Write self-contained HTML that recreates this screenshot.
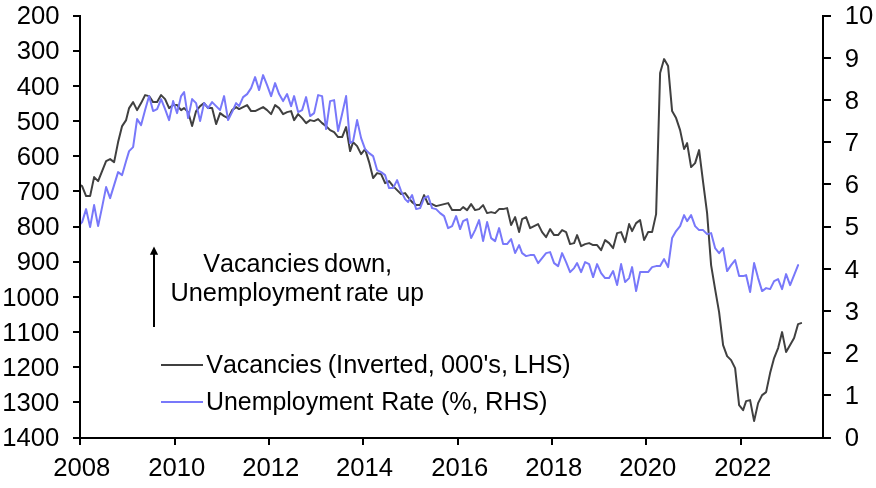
<!DOCTYPE html>
<html><head><meta charset="utf-8"><title>Vacancies and Unemployment Rate</title>
<style>
html,body{margin:0;padding:0;background:#fff;}
svg{display:block;will-change:transform;}
text{font-family:"Liberation Sans",Arial,sans-serif;font-size:24.8px;fill:#000;font-kerning:none;}
</style></head><body>
<svg width="876" height="488" viewBox="0 0 876 488">
<rect width="876" height="488" fill="#ffffff"/>
<polyline fill="none" stroke="#404040" stroke-width="2" stroke-linejoin="round" stroke-linecap="round" points="80.3,185.0 82.1,186.1 86.1,196.1 90.1,196.1 94.1,177.1 98.1,181.1 102.1,171.1 106.1,161.1 110.1,159.1 114.1,162.1 118.1,142.1 122.1,126.1 126.1,120.1 129.1,108.1 133.1,102.1 137.1,110.1 141.1,103.1 145.1,95.1 149.1,96.1 153.1,102.1 157.1,102.1 161.1,95.1 165.1,99.1 169.1,108.1 173.1,105.1 177.1,105.1 181.1,110.1 184.1,108.1 188.1,112.1 192.1,126.1 196.1,111.1 200.1,106.1 204.1,103.1 208.1,108.1 212.1,108.1 216.1,124.1 220.1,113.1 224.1,116.1 228.1,118.1 232.1,110.1 236.1,107.1 239.1,109.1 243.1,107.1 247.1,105.1 251.1,111.1 255.1,111.1 259.1,109.1 263.1,107.1 267.1,110.1 271.1,114.1 275.1,105.1 279.1,108.1 283.1,114.1 287.1,112.1 291.1,111.1 294.1,120.1 298.1,114.1 302.1,118.1 306.1,123.1 310.1,120.1 314.1,121.1 318.1,119.1 322.1,123.1 326.1,126.1 330.1,130.1 334.1,132.1 338.1,137.1 342.1,137.1 346.1,127.1 350.1,151.1 353.1,142.1 357.1,146.1 361.1,154.1 365.1,149.1 369.1,162.1 373.1,178.1 377.1,173.1 381.1,174.1 385.1,183.1 389.1,181.1 393.1,186.1 397.1,190.1 401.1,194.1 405.1,193.1 408.1,197.1 412.1,202.1 416.1,205.1 420.1,205.1 424.1,195.1 428.1,204.1 432.1,204.1 436.1,206.1 440.1,205.1 444.1,204.1 448.1,203.1 452.1,210.1 456.1,210.1 460.1,210.1 463.1,207.1 467.1,210.1 471.1,204.1 475.1,210.1 479.1,209.1 483.1,205.1 487.1,213.1 491.1,212.1 495.1,213.1 499.1,209.1 503.1,209.1 507.1,208.1 511.1,225.1 515.1,217.1 519.1,232.1 522.1,219.1 526.1,217.1 530.1,228.1 534.1,226.1 538.1,224.1 542.1,232.1 546.1,237.1 550.1,229.1 554.1,235.1 558.1,235.1 562.1,230.1 566.1,232.1 570.1,244.1 574.1,243.1 577.1,235.1 581.1,246.1 585.1,244.1 589.1,243.1 593.1,245.1 597.1,245.1 601.1,250.1 605.1,240.1 609.1,243.1 613.1,248.1 617.1,233.1 621.1,232.1 625.1,242.1 629.1,224.1 632.1,231.1 636.1,223.1 640.1,220.1 644.1,240.1 648.1,232.1 652.1,232.1 656.1,214.1 660.1,73.1 664.1,59.1 668.1,66.1 672.1,111.1 676.1,118.1 680.1,130.1 684.1,149.1 687.1,143.1 691.1,167.1 695.1,163.1 699.1,150.1 703.1,182.1 707.1,213.1 711.1,265.1 715.1,289.1 719.1,312.1 723.1,345.1 727.1,356.1 731.1,360.1 735.1,368.1 739.1,405.1 743.1,410.1 746.1,401.1 750.1,400.1 754.1,421.1 758.1,403.1 762.1,395.1 766.1,392.1 770.1,373.1 774.1,358.1 778.1,348.1 782.1,332.1 786.1,352.1 790.1,345.1 794.1,338.1 798.1,324.1 801.1,323.1"/>
<polyline fill="none" stroke="#7878fa" stroke-width="2" stroke-linejoin="round" stroke-linecap="round" points="80.3,224.0 82.1,222.1 86.1,209.1 90.1,227.1 94.1,205.1 98.1,226.1 102.1,207.1 106.1,187.1 110.1,198.1 114.1,185.1 118.1,172.1 122.1,175.1 126.1,161.1 129.1,151.1 133.1,147.1 137.1,119.1 141.1,125.1 145.1,110.1 149.1,96.1 153.1,111.1 157.1,109.1 161.1,99.1 165.1,109.1 169.1,120.1 173.1,101.1 177.1,113.1 181.1,96.1 184.1,92.1 188.1,118.1 192.1,99.1 196.1,103.1 200.1,121.1 204.1,103.1 208.1,108.1 212.1,102.1 216.1,106.1 220.1,110.1 224.1,96.1 228.1,120.1 232.1,112.1 236.1,103.1 239.1,106.1 243.1,97.1 247.1,94.1 251.1,88.1 255.1,77.1 259.1,90.1 263.1,75.1 267.1,85.1 271.1,96.1 275.1,83.1 279.1,94.1 283.1,101.1 287.1,94.1 291.1,106.1 294.1,96.1 298.1,112.1 302.1,110.1 306.1,97.1 310.1,116.1 314.1,113.1 318.1,95.1 322.1,96.1 326.1,129.1 330.1,101.1 334.1,100.1 338.1,131.1 342.1,114.1 346.1,96.1 350.1,143.1 353.1,141.1 357.1,120.1 361.1,138.1 365.1,149.1 369.1,153.1 373.1,156.1 377.1,170.1 381.1,172.1 385.1,175.1 389.1,188.1 393.1,188.1 397.1,180.1 401.1,191.1 405.1,199.1 408.1,202.1 412.1,195.1 416.1,209.1 420.1,208.1 424.1,198.1 428.1,196.1 432.1,208.1 436.1,209.1 440.1,213.1 444.1,216.1 448.1,228.1 452.1,226.1 456.1,216.1 460.1,229.1 463.1,221.1 467.1,219.1 471.1,238.1 475.1,230.1 479.1,220.1 483.1,241.1 487.1,222.1 491.1,238.1 495.1,241.1 499.1,228.1 503.1,244.1 507.1,244.1 511.1,239.1 515.1,253.1 519.1,245.1 522.1,253.1 526.1,256.1 530.1,255.1 534.1,255.1 538.1,263.1 542.1,258.1 546.1,253.1 550.1,252.1 554.1,263.1 558.1,266.1 562.1,253.1 566.1,262.1 570.1,272.1 574.1,268.1 577.1,263.1 581.1,272.1 585.1,262.1 589.1,264.1 593.1,277.1 597.1,264.1 601.1,273.1 605.1,278.1 609.1,278.1 613.1,271.1 617.1,285.1 621.1,264.1 625.1,282.1 629.1,278.1 632.1,267.1 636.1,291.1 640.1,272.1 644.1,272.1 648.1,272.1 652.1,267.1 656.1,266.1 660.1,266.1 664.1,259.1 668.1,267.1 672.1,238.1 676.1,231.1 680.1,226.1 684.1,215.1 687.1,221.1 691.1,215.1 695.1,226.1 699.1,230.1 703.1,230.1 707.1,234.1 711.1,233.1 715.1,248.1 719.1,253.1 723.1,248.1 727.1,271.1 731.1,265.1 735.1,260.1 739.1,276.1 743.1,276.1 746.1,275.1 750.1,292.1 754.1,263.1 758.1,278.1 762.1,291.1 766.1,288.1 770.1,289.1 774.1,281.1 778.1,279.1 782.1,289.1 786.1,274.1 790.1,285.1 794.1,275.1 798.1,265.1"/>
<g stroke="#000" stroke-width="2" fill="none" stroke-linecap="butt" shape-rendering="crispEdges">
<line x1="80.0" y1="15.0" x2="80.0" y2="439.0"/>
<line x1="823.0" y1="15.0" x2="823.0" y2="439.0"/>
<line x1="73.0" y1="438.0" x2="831.0" y2="438.0"/>
</g>
<g stroke="#000" stroke-width="2" fill="none" stroke-linecap="butt">
<line x1="73.0" y1="16.00" x2="80.0" y2="16.00"/>
<line x1="73.0" y1="51.00" x2="80.0" y2="51.00"/>
<line x1="73.0" y1="86.00" x2="80.0" y2="86.00"/>
<line x1="73.0" y1="121.00" x2="80.0" y2="121.00"/>
<line x1="73.0" y1="156.00" x2="80.0" y2="156.00"/>
<line x1="73.0" y1="191.00" x2="80.0" y2="191.00"/>
<line x1="73.0" y1="227.00" x2="80.0" y2="227.00"/>
<line x1="73.0" y1="262.00" x2="80.0" y2="262.00"/>
<line x1="73.0" y1="297.00" x2="80.0" y2="297.00"/>
<line x1="73.0" y1="332.00" x2="80.0" y2="332.00"/>
<line x1="73.0" y1="367.00" x2="80.0" y2="367.00"/>
<line x1="73.0" y1="402.00" x2="80.0" y2="402.00"/>
<line x1="823.0" y1="16.00" x2="831.0" y2="16.00"/>
<line x1="823.0" y1="58.00" x2="831.0" y2="58.00"/>
<line x1="823.0" y1="100.00" x2="831.0" y2="100.00"/>
<line x1="823.0" y1="142.00" x2="831.0" y2="142.00"/>
<line x1="823.0" y1="184.00" x2="831.0" y2="184.00"/>
<line x1="823.0" y1="227.00" x2="831.0" y2="227.00"/>
<line x1="823.0" y1="269.00" x2="831.0" y2="269.00"/>
<line x1="823.0" y1="311.00" x2="831.0" y2="311.00"/>
<line x1="823.0" y1="353.00" x2="831.0" y2="353.00"/>
<line x1="823.0" y1="395.00" x2="831.0" y2="395.00"/>
<line x1="80" y1="438.0" x2="80" y2="445.0"/>
<line x1="175" y1="438.0" x2="175" y2="445.0"/>
<line x1="269" y1="438.0" x2="269" y2="445.0"/>
<line x1="363" y1="438.0" x2="363" y2="445.0"/>
<line x1="458" y1="438.0" x2="458" y2="445.0"/>
<line x1="552" y1="438.0" x2="552" y2="445.0"/>
<line x1="646" y1="438.0" x2="646" y2="445.0"/>
<line x1="741" y1="438.0" x2="741" y2="445.0"/>
</g>
<text transform="translate(16.74,24.30) scale(1.0350,1.058)">200</text>
<text transform="translate(16.74,59.47) scale(1.0350,1.058)">300</text>
<text transform="translate(16.74,94.63) scale(1.0350,1.058)">400</text>
<text transform="translate(16.74,129.80) scale(1.0350,1.058)">500</text>
<text transform="translate(16.74,164.97) scale(1.0350,1.058)">600</text>
<text transform="translate(16.74,200.13) scale(1.0350,1.058)">700</text>
<text transform="translate(16.74,235.30) scale(1.0350,1.058)">800</text>
<text transform="translate(16.74,270.47) scale(1.0350,1.058)">900</text>
<text transform="translate(2.25,305.63) scale(1.0350,1.058)">1000</text>
<text transform="translate(2.25,340.80) scale(1.0350,1.058)">1100</text>
<text transform="translate(2.25,375.97) scale(1.0350,1.058)">1200</text>
<text transform="translate(2.25,411.13) scale(1.0350,1.058)">1300</text>
<text transform="translate(2.25,446.30) scale(1.0350,1.058)">1400</text>
<text transform="translate(844.67,24.30) scale(1.0350,1.058)">10</text>
<text transform="translate(844.67,66.50) scale(1.0350,1.058)">9</text>
<text transform="translate(844.67,108.70) scale(1.0350,1.058)">8</text>
<text transform="translate(844.67,150.90) scale(1.0350,1.058)">7</text>
<text transform="translate(844.67,193.10) scale(1.0350,1.058)">6</text>
<text transform="translate(844.67,235.30) scale(1.0350,1.058)">5</text>
<text transform="translate(844.67,277.50) scale(1.0350,1.058)">4</text>
<text transform="translate(844.67,319.70) scale(1.0350,1.058)">3</text>
<text transform="translate(844.67,361.90) scale(1.0350,1.058)">2</text>
<text transform="translate(844.67,404.10) scale(1.0350,1.058)">1</text>
<text transform="translate(844.67,446.30) scale(1.0350,1.058)">0</text>
<text transform="translate(53.31,476.00) scale(1.0350,1.058)">2008</text>
<text transform="translate(148.18,476.00) scale(1.0350,1.058)">2010</text>
<text transform="translate(242.31,476.00) scale(1.0350,1.058)">2012</text>
<text transform="translate(336.05,476.00) scale(1.0350,1.058)">2014</text>
<text transform="translate(431.31,476.00) scale(1.0350,1.058)">2016</text>
<text transform="translate(525.31,476.00) scale(1.0350,1.058)">2018</text>
<text transform="translate(619.18,476.00) scale(1.0350,1.058)">2020</text>
<text transform="translate(714.31,476.00) scale(1.0350,1.058)">2022</text>
<line x1="154" y1="327" x2="154" y2="254" stroke="#000" stroke-width="2" shape-rendering="crispEdges"/>
<polygon points="154,246.4 158.1,254.8 149.9,254.8" fill="#000"/>
<text transform="translate(203.25,271.70) scale(1.0137,1.058)">Vacancies</text>
<text transform="translate(323.97,271.70) scale(1.0317,1.058)">down,</text>
<text transform="translate(170.45,300.60) scale(1.0231,1.058)">Unemployment</text>
<text transform="translate(345.74,300.60) scale(1.0063,1.058)">rate</text>
<text transform="translate(396.51,300.60) scale(0.9920,1.058)">up</text>
<line x1="161" y1="365" x2="203" y2="365" stroke="#404040" stroke-width="2"/>
<line x1="161" y1="402" x2="203" y2="402" stroke="#7878fa" stroke-width="2"/>
<text transform="translate(206.25,372.60) scale(1.0093,1.058)">Vacancies</text>
<text transform="translate(327.67,372.60) scale(1.0228,1.058)">(Inverted,</text>
<text transform="translate(440.98,372.60) scale(1.0249,1.058)">000&#39;s,</text>
<text transform="translate(513.78,372.60) scale(1.0075,1.058)">LHS)</text>
<text transform="translate(205.99,410.00) scale(1.0049,1.058)">Unemployment</text>
<text transform="translate(381.28,410.00) scale(1.0091,1.058)">Rate</text>
<text transform="translate(440.99,410.00) scale(1.0090,1.058)">(%,</text>
<text transform="translate(484.94,410.00) scale(1.0316,1.058)">RHS)</text>
</svg>
</body></html>
